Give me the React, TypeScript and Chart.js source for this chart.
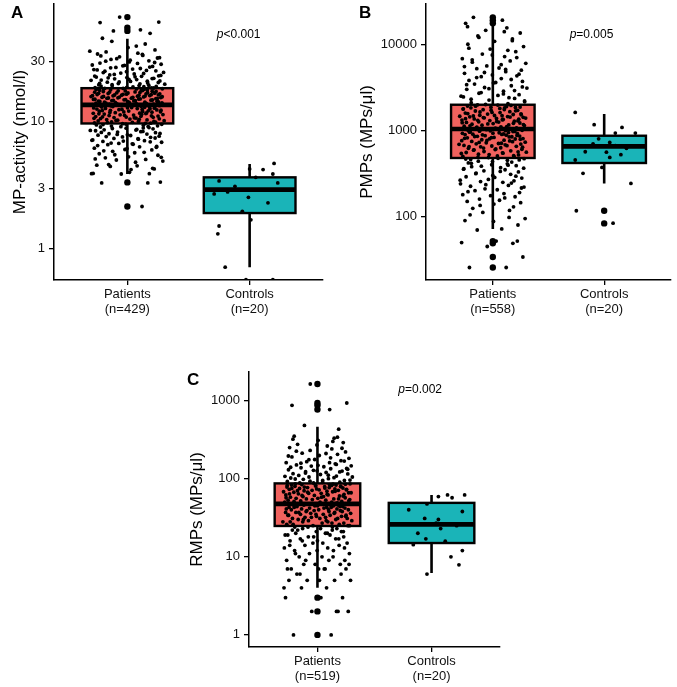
import React, { useEffect, useRef } from "react";
import { Chart, registerables } from "chart.js";

Chart.register(...registerables);

const FONT = '"Liberation Sans", Arial, Helvetica, sans-serif';
Chart.defaults.font.family = FONT;

const RED = "#F0625E";
const TEAL = "#1AB4B8";
const BOX_COLORS = [RED, TEAL];

const CATEGORIES = ["Patients", "Controls"];

// jitter offsets (category units) for the patient clouds
const JITTER = [0.12, -0.21, 0.27, -0.05, 0.18, -0.28, 0.03, 0.22, -0.14, 0.08, -0.25, 0.29, -0.09, 0.15, -0.18, 0.01, 0.25, -0.23, 0.06, -0.12, 0.2, -0.02, -0.27, 0.1, 0.24, -0.16, 0.04, -0.07, 0.28, -0.2, 0.14, -0.29, 0.09, -0.11, 0.19, -0.04, 0.26, -0.24, 0.0, 0.16, -0.15, 0.23, -0.08, 0.11, -0.26, 0.07, -0.19, 0.21, -0.01, 0.13, -0.22, 0.17, -0.13];
// small shift applied per pass through JITTER
const JITTER_SHIFT = [0.0, 0.011, -0.007, 0.016, -0.013, 0.005, -0.017, 0.009, -0.003, 0.014];

// ---------- Panel A : MP-activity ----------
const A_COUNTS = ["(n=429)", "(n=20)"];
const A_TICKS = [1, 3, 10, 30];
const A_RANGE = [0.567, 84.7];
const A_PATIENTS_1 = [
  2.15, 3.3, 3.35, 3.88, 3.9, 3.92, 4.2, 4.25, 4.45, 4.5, 4.55, 4.9, 5.0,
  5.05, 5.2, 5.3, 5.45, 5.6, 5.7, 5.85, 6.0, 6.05, 6.2, 6.35, 6.4, 6.6, 6.7, 6.75, 6.9,
  7.0, 7.1, 7.15, 7.3, 7.4, 7.55, 7.6, 7.7, 7.85, 7.9, 8.0, 8.05, 8.2, 8.3, 8.35, 8.5,
  8.6, 8.65, 8.8, 8.9, 8.95, 9.1, 9.2, 9.25, 9.4, 9.5, 9.55, 9.65,
  9.75, 9.8, 9.9, 9.95, 10.0, 10.1, 10.15, 10.2, 10.3, 10.35, 10.4, 10.5, 10.55, 10.6,
  10.7, 10.8, 10.85, 10.9, 11.0, 11.05, 11.1, 11.2, 11.3, 11.35, 11.4, 11.5, 11.6, 11.65,
  11.7, 11.8, 11.9, 11.95, 12.0, 12.1, 12.15, 12.2, 12.3, 12.4, 12.45, 12.5, 12.6, 12.7,
  12.75, 12.8, 12.9, 13.0, 13.05, 13.1, 13.2, 13.25, 13.3, 13.4, 13.5, 13.55,
  13.65, 13.7, 13.75, 13.8, 13.9, 14.0, 14.1, 14.15, 14.25, 14.3, 14.4, 14.5, 14.55, 14.6,
  14.7, 14.8, 14.9, 15.0, 15.1, 15.2, 15.3, 15.35, 15.45, 15.5, 15.6, 15.7, 15.8, 15.9,
  16.0, 16.1, 16.2, 16.3, 16.4, 16.5, 16.6, 16.7, 16.8, 16.9, 17.0, 17.1, 17.2, 17.3,
  17.4, 17.5, 17.6, 17.7, 17.8, 17.9, 18.0, 18.1, 18.2, 18.3,
  18.5, 18.6, 18.8, 19.0, 19.2, 19.3, 19.5, 19.8, 20.0, 20.2, 20.5, 20.8, 21.0, 21.3,
  21.5, 21.8, 22.0, 22.3, 22.5, 22.8, 23.0, 23.4, 23.8, 24.2, 24.5, 25.0, 25.4, 25.8,
  26.3, 26.8, 27.3, 27.8, 28.4, 29.0, 29.6,
  30.2, 31.0, 31.8, 32.5, 33.3, 34.2, 34.7, 35.5, 36.8, 38.4, 41.0, 45.5,
  49.8, 52.0, 53.0, 60.5, 61.0, 66.8,
];
const A_PATIENTS_2 = [
  3.3, 3.9, 4.0, 4.3, 4.6, 4.8, 5.1, 5.25, 5.5, 5.75, 5.9, 6.15, 6.3, 6.5, 6.65, 6.8, 6.95,
  7.05, 7.2, 7.35, 7.45, 7.65, 7.8, 7.95, 8.1, 8.25, 8.4, 8.55, 8.7, 8.85, 9.0, 9.15, 9.3, 9.45, 9.6,
  9.72, 9.85, 10.05, 10.25, 10.45, 10.65, 10.75, 10.95, 11.15, 11.25, 11.45, 11.55, 11.75, 11.85,
  12.05, 12.25, 12.35, 12.55, 12.65, 12.85, 12.95, 13.15, 13.35, 13.45, 13.58,
  13.62, 13.85, 13.95, 14.05, 14.2, 14.35, 14.45, 14.65, 14.75, 14.85, 14.95, 15.05, 15.15, 15.25,
  15.4, 15.55, 15.65, 15.75, 15.85, 15.95, 16.05, 16.15, 16.25, 16.35, 16.45, 16.55, 16.75, 16.85,
  16.95, 17.15, 17.35, 17.55, 17.75, 17.95, 18.15, 18.35,
  18.45, 18.7, 18.9, 19.1, 19.4, 19.6, 19.9, 20.1, 20.4, 20.6, 20.9, 21.2, 21.6, 21.9, 22.2, 22.6,
  22.9, 23.2, 23.6, 24.0, 24.4, 24.8, 25.2, 25.6, 26.0, 26.6, 27.0, 27.6, 28.0, 28.8, 29.3, 30.0,
  30.6, 31.4, 32.0, 33.0, 34.0, 36.0, 39.5, 43.0,
];
const A_CONTROLS = [3.42, 2.7, 2.54, 4.25, 4.2, 3.65, 4.7, 3.88, 1.97, 1.69, 1.51, 1.31, 0.716, 0.57, 0.57, 2.9, 3.1, 2.3, 3.3, 2.8];
const A_CONTROLS_JITTER = [-0.25, -0.29, -0.01, 0.0, 0.11, 0.05, 0.2, 0.19, -0.06, 0.01, -0.25, -0.26, -0.2, -0.03, 0.19, 0.08, -0.12, 0.15, 0.23, -0.18];
// [lower whisker, Q1, median, Q3, upper whisker]
const A_BOX_PATIENTS = [3.88, 9.7, 13.6, 18.4, 45];
const A_BOX_CONTROLS = [0.716, 1.91, 2.92, 3.65, 4.65];
const A_OUTLIERS_PATIENTS = [66.8, 55, 52, 3.33, 2.15];
const A_OUTLIERS_CONTROLS: number[] = [];
const A_PVALUE = "<0.001";
const A_PVALUE_AT = [1.91, 48.3];

// ---------- Panel B : PMPs ----------
const B_COUNTS = ["(n=558)", "(n=20)"];
const B_TICKS = [100, 1000, 10000];
const B_RANGE = [18.4, 29300];
const B_PATIENTS_1 = [
  25.7, 25.7, 34, 45, 49, 50, 52, 52, 70, 72, 90, 95,
  112, 118, 125, 140, 145, 150, 155, 160, 170, 175, 180, 185, 190, 200, 205, 210, 220, 225,
  230, 240, 250, 255, 260, 270, 280, 290, 300, 310, 320, 330, 340, 350, 360, 370, 380, 390,
  400, 410, 420, 430, 440, 450, 460, 470,
  485, 495, 500, 505, 520, 530, 545, 555, 560, 570, 580, 595, 600, 605, 620, 630, 645, 655,
  660, 670, 680, 695, 700, 705, 720, 730, 745, 755, 760, 770, 780, 795, 800, 805, 820, 830,
  845, 855, 860, 870, 880, 895, 900, 905, 920, 930, 945, 955, 970, 980, 995, 1000, 1005, 1020, 1030,
  1045, 1060, 1070, 1080, 1100, 1120, 1140, 1150, 1160, 1180, 1200, 1220, 1240, 1250, 1260,
  1280, 1300, 1320, 1340, 1350, 1360, 1380, 1400, 1420, 1440, 1450, 1460, 1480, 1500, 1530,
  1550, 1560, 1590, 1620, 1650, 1680, 1710, 1740, 1750, 1770, 1800, 1830, 1850, 1860, 1890,
  1920, 1950, 1980,
  2050, 2100, 2150, 2250, 2350, 2450, 2550, 2600, 2700, 2850, 3000, 3100, 3150, 3300, 3450,
  3600, 3700, 3800, 4000, 4200, 4300, 4400, 4600, 4800, 5000, 5200, 5300, 5600, 6000, 6200,
  6400, 6800, 7200, 7700, 8200, 8800, 9400, 10000, 10800, 11500, 12500, 13500, 14500, 15500,
  17500, 19000, 20500,
];
const B_PATIENTS_2 = [
  80, 88, 98, 105, 130, 135, 165, 195, 215, 235, 245, 265, 285, 295, 315, 335, 355, 365, 385,
  395, 415, 435, 455, 465, 475,
  490, 510, 525, 540, 550, 565, 590, 610, 625, 640, 650, 665, 690, 710, 725, 740, 765, 790,
  810, 825, 840, 850, 875, 890, 910, 925, 940, 960, 975, 990, 1010, 1025,
  1050, 1090, 1110, 1130, 1170, 1190, 1210, 1230, 1270, 1290, 1310, 1330, 1370, 1390, 1410,
  1430, 1470, 1490, 1520, 1570, 1610, 1640, 1690, 1720, 1780, 1820, 1870, 1910, 1970,
  2000, 2200, 2300, 2400, 2500, 2650, 2750, 2900, 3050, 3200, 3400, 3550, 3900, 4100, 4500,
  4700, 5100, 5500, 5800, 6600, 7000, 7500, 8500, 9000, 11000, 12000, 14000, 16000,
];
const B_CONTROLS = [1620, 1165, 1083, 933, 933, 726, 665, 566, 486, 523, 454, 372, 318, 243, 117, 84, 700, 620, 800, 560];
const B_CONTROLS_JITTER = [-0.26, -0.09, 0.16, 0.28, 0.1, 0.05, 0.1, -0.17, 0.05, 0.15, -0.26, -0.02, -0.19, 0.24, -0.25, 0.08, -0.1, 0.2, -0.05, 0.02];
const B_BOX_PATIENTS = [72, 479, 1038, 1987, 16600];
const B_BOX_CONTROLS = [243, 419, 653, 868, 1550];
const B_OUTLIERS_PATIENTS = [20500, 19000, 17500, 52, 49, 34, 25.7];
const B_OUTLIERS_CONTROLS = [117, 83.5];
const B_PVALUE = "=0.005";
const B_PVALUE_AT = [1.886, 12800];

// ---------- Panel C : RMPs ----------
const C_COUNTS = ["(n=519)", "(n=20)"];
const C_TICKS = [1, 10, 100, 1000];
const C_RANGE = [0.708, 2320];
const C_PATIENTS_1 = [
  1, 1, 2, 2, 2, 3, 3, 3, 4, 4, 5, 5, 5, 5, 6, 7, 7, 7, 7, 8, 8, 8, 9, 9, 9,
  10, 10, 11, 11, 12, 12, 13, 13, 14, 14, 15, 15, 16, 16, 17, 17, 18, 18, 19, 19, 20, 20,
  21, 21, 22, 22, 23, 23, 24, 24,
  25, 25, 26, 26, 27, 27, 28, 28, 28, 29, 29, 30, 30, 31, 31, 31, 32, 32, 33, 33, 34, 34, 34,
  35, 35, 36, 36, 37, 37, 37, 38, 38, 39, 39, 40, 40, 40, 41, 41, 42, 42, 43, 43, 43, 44, 44,
  45, 45, 46, 46, 46, 47, 47,
  48, 48, 49, 50, 50, 51, 52, 53, 53, 54, 55, 55, 56, 56, 57, 58, 59, 59, 60, 61, 62, 62, 63,
  64, 65, 65, 66, 67, 68, 68, 69, 70, 71, 71, 72, 73, 74, 74, 75, 76, 77, 77, 78, 79, 80, 80,
  81, 82, 83, 83, 84, 85, 86, 86,
  88, 90, 92, 95, 95, 98, 100, 102, 105, 105, 108, 110, 113, 115, 116, 120, 123, 125, 126,
  130, 134, 135, 138, 142, 145, 146, 150, 155, 160, 160, 165, 170, 176, 182, 190, 198, 205,
  212, 220, 230, 240, 250, 262, 275, 290, 310, 330, 350, 430, 480,
  767, 870, 930, 1630,
];
const C_PATIENTS_2 = [
  2, 4, 5, 6, 6, 7, 7, 8, 9,
  10, 11, 12, 13, 14, 15, 16, 17, 18, 19, 20, 21, 22, 23, 24,
  25, 26, 27, 28, 29, 30, 31, 32, 33, 34, 35, 36, 37, 38, 39, 40, 41, 42, 43, 44, 45, 46, 47,
  48, 49, 50, 51, 52, 54, 55, 57, 58, 60, 61, 63, 64, 66, 67, 69, 70, 72, 73, 75, 76, 78, 79,
  81, 82, 84, 85,
  88, 90, 93, 96, 99, 103, 107, 111, 118, 122, 128, 132, 140, 148, 152, 158, 168, 175, 185,
  195, 210, 225, 245, 270, 300, 320, 340,
];
const C_CONTROLS = [47.5, 59, 62, 57, 62, 38, 31, 30, 27, 23, 17, 14.3, 15.8, 12, 10, 7.9, 6, 40, 20, 25];
const C_CONTROLS_JITTER = [-0.04, 0.06, 0.14, 0.18, 0.29, 0.27, -0.06, 0.06, 0.04, 0.08, -0.05, -0.16, 0.12, 0.27, 0.17, 0.24, -0.04, -0.2, -0.12, 0.22];
const C_BOX_PATIENTS = [4, 24.8, 47.5, 87, 463];
const C_BOX_CONTROLS = [6.2, 15, 26, 49, 62];
const C_OUTLIERS_PATIENTS = [1630, 930, 870, 767, 3, 2, 1];
const C_OUTLIERS_CONTROLS: number[] = [];
const C_PVALUE = "=0.002";
const C_PVALUE_AT = [1.9, 1395];

type PanelCfg = {
  letter: string;
  yTitle: string;
  counts: string[];
  ticks: number[];
  range: number[];
  patients: number[];
  controls: number[];
  controlsJitter: number[];
  boxes: number[][];
  outliersPatients: number[];
  outliersControls: number[];
  pvalue: string;
  pvalueAt: number[];
  left: number; top: number; width: number; height: number;
  yWidth: number; xHeight: number; padTop: number; padRight: number;
  titlePad: number; letterX: number; letterY: number;
};

const PANELS: PanelCfg[] = [
  {
    letter: "A", yTitle: "MP-activity (nmol/l)", counts: A_COUNTS, ticks: A_TICKS, range: A_RANGE,
    patients: [...A_PATIENTS_1, ...A_PATIENTS_2], controls: A_CONTROLS, controlsJitter: A_CONTROLS_JITTER,
    boxes: [A_BOX_PATIENTS, A_BOX_CONTROLS], outliersPatients: A_OUTLIERS_PATIENTS,
    outliersControls: A_OUTLIERS_CONTROLS, pvalue: A_PVALUE, pvalueAt: A_PVALUE_AT,
    left: 0, top: 0, width: 338, height: 320, yWidth: 54, xHeight: 40, padTop: 3, padRight: 15,
    titlePad: 10, letterX: 11, letterY: 18,
  },
  {
    letter: "B", yTitle: "PMPs (MPs/\u03bcl)", counts: B_COUNTS, ticks: B_TICKS, range: B_RANGE,
    patients: [...B_PATIENTS_1, ...B_PATIENTS_2], controls: B_CONTROLS, controlsJitter: B_CONTROLS_JITTER,
    boxes: [B_BOX_PATIENTS, B_BOX_CONTROLS], outliersPatients: B_OUTLIERS_PATIENTS,
    outliersControls: B_OUTLIERS_CONTROLS, pvalue: B_PVALUE, pvalueAt: B_PVALUE_AT,
    left: 338, top: 0, width: 339, height: 320, yWidth: 88, xHeight: 40, padTop: 3, padRight: 6,
    titlePad: 19, letterX: 21, letterY: 18,
  },
  {
    letter: "C", yTitle: "RMPs (MPs/\u03bcl)", counts: C_COUNTS, ticks: C_TICKS, range: C_RANGE,
    patients: [...C_PATIENTS_1, ...C_PATIENTS_2], controls: C_CONTROLS, controlsJitter: C_CONTROLS_JITTER,
    boxes: [C_BOX_PATIENTS, C_BOX_CONTROLS], outliersPatients: C_OUTLIERS_PATIENTS,
    outliersControls: C_OUTLIERS_CONTROLS, pvalue: C_PVALUE, pvalueAt: C_PVALUE_AT,
    left: 170, top: 340, width: 340, height: 347, yWidth: 79, xHeight: 40, padTop: 32, padRight: 10,
    titlePad: 17, letterX: 17, letterY: 45,
  },
];

const TEXT_COLOR = "#111";

function Panel({ p }: { p: PanelCfg }) {
  const ref = useRef<HTMLCanvasElement | null>(null);

  useEffect(() => {
    const canvas = ref.current;
    if (!canvas) return;

    const n = JITTER.length;
    const patientPts = p.patients.map((v, i) => ({
      x: 1 + JITTER[i % n] + JITTER_SHIFT[Math.floor(i / n) % JITTER_SHIFT.length],
      y: v,
    }));
    const controlPts = p.controls.map((v, i) => ({ x: 2 + p.controlsJitter[i % p.controlsJitter.length], y: v }));
    const outlierPts = [
      ...p.outliersPatients.map((v) => ({ x: 1, y: v })),
      ...p.outliersControls.map((v) => ({ x: 2, y: v })),
    ];

    const boxPlugin = {
      id: "boxes" + p.letter,
      beforeDatasetsDraw(chart: any) {
        const { ctx, chartArea, scales } = chart;
        const xs = scales.x;
        const ys = scales.y;
        ctx.save();
        ctx.beginPath();
        ctx.rect(chartArea.left, chartArea.top, chartArea.right - chartArea.left, chartArea.bottom - chartArea.top);
        ctx.clip();
        p.boxes.forEach((b, i) => {
          const cat = i + 1;
          const cx = xs.getPixelForValue(cat);
          const l = xs.getPixelForValue(cat - 0.375);
          const r = xs.getPixelForValue(cat + 0.375);
          const [lo, q1, med, q3, hi] = b.map((v) => ys.getPixelForValue(v));
          ctx.strokeStyle = "#000";
          ctx.lineCap = "butt";
          ctx.lineWidth = 2.6;
          ctx.beginPath();
          ctx.moveTo(cx, lo);
          ctx.lineTo(cx, q1);
          ctx.moveTo(cx, q3);
          ctx.lineTo(cx, hi);
          ctx.stroke();
          ctx.fillStyle = BOX_COLORS[i];
          ctx.fillRect(l, q3, r - l, q1 - q3);
          ctx.lineWidth = 2.4;
          ctx.strokeRect(l, q3, r - l, q1 - q3);
          ctx.lineWidth = 4.6;
          ctx.beginPath();
          ctx.moveTo(l, med);
          ctx.lineTo(r, med);
          ctx.stroke();
        });
        ctx.restore();
      },
      afterDraw(chart: any) {
        const { ctx, scales } = chart;
        const px = scales.x.getPixelForValue(p.pvalueAt[0]);
        const py = scales.y.getPixelForValue(p.pvalueAt[1]);
        ctx.save();
        ctx.fillStyle = "#000";
        ctx.textBaseline = "middle";
        ctx.textAlign = "left";
        ctx.font = `italic 12px ${FONT}`;
        const wp = ctx.measureText("p").width;
        ctx.font = `12px ${FONT}`;
        const wr = ctx.measureText(p.pvalue).width;
        const x0 = px - (wp + wr) / 2;
        ctx.font = `italic 12px ${FONT}`;
        ctx.fillText("p", x0, py);
        ctx.font = `12px ${FONT}`;
        ctx.fillText(p.pvalue, x0 + wp, py);
        ctx.font = `bold 17px ${FONT}`;
        ctx.textBaseline = "alphabetic";
        ctx.fillText(p.letter, p.letterX, p.letterY);
        ctx.restore();
      },
    };

    const axisGrid = {
      display: true,
      drawOnChartArea: false,
      drawTicks: true,
      tickLength: 5,
      color: "#000",
      lineWidth: 1.3,
    };
    const axisBorder = { display: true, color: "#000", width: 1.5 };
    const tickFont = { family: FONT, size: 13, lineHeight: 1.15 };
    const pointStyle = {
      pointBackgroundColor: "#000",
      pointBorderWidth: 0,
      borderWidth: 0,
      showLine: false,
      clip: 0,
    };

    const chart = new Chart(canvas, {
      type: "scatter",
      data: {
        datasets: [
          { data: patientPts, pointRadius: 1.9, ...pointStyle } as any,
          { data: controlPts, pointRadius: 1.9, ...pointStyle } as any,
          { data: outlierPts, pointRadius: 3.2, ...pointStyle } as any,
        ],
      },
      options: {
        animation: false,
        responsive: false,
        devicePixelRatio: 1,
        events: [],
        layout: { padding: { left: 0, top: p.padTop, right: p.padRight, bottom: 0 } },
        plugins: { legend: { display: false }, tooltip: { enabled: false } },
        scales: {
          x: {
            type: "linear",
            min: 0.4,
            max: 2.6,
            afterBuildTicks: (s: any) => {
              s.ticks = [{ value: 1 }, { value: 2 }];
            },
            afterFit: (s: any) => {
              s.height = p.xHeight;
              s.paddingLeft = 0;
              s.paddingRight = 0;
            },
            ticks: {
              autoSkip: false,
              maxRotation: 0,
              minRotation: 0,
              padding: 2,
              color: TEXT_COLOR,
              font: tickFont,
              callback: (v: any) => [CATEGORIES[Math.round(v) - 1], p.counts[Math.round(v) - 1]],
            },
            grid: axisGrid,
            border: axisBorder,
          } as any,
          y: {
            type: "logarithmic",
            min: p.range[0],
            max: p.range[1],
            afterBuildTicks: (s: any) => {
              s.ticks = p.ticks.map((v) => ({ value: v }));
            },
            afterFit: (s: any) => {
              s.width = p.yWidth;
              s.paddingTop = 0;
              s.paddingBottom = 0;
            },
            ticks: {
              autoSkip: false,
              padding: 4,
              color: TEXT_COLOR,
              font: tickFont,
              callback: (v: any) => String(v),
            },
            grid: axisGrid,
            border: axisBorder,
            title: {
              display: true,
              text: p.yTitle,
              color: "#000",
              font: { family: FONT, size: 17 },
              padding: { top: p.titlePad, bottom: 0 },
            },
          } as any,
        },
      },
      plugins: [boxPlugin],
    });

    return () => chart.destroy();
  }, [p]);

  return (
    <canvas
      ref={ref}
      width={p.width}
      height={p.height}
      style={{ position: "absolute", left: p.left, top: p.top, width: p.width, height: p.height, display: "block" }}
    />
  );
}

export default function App() {
  return (
    <div style={{ position: "absolute", left: 0, top: 0, width: 677, height: 687, background: "#fff", overflow: "hidden" }}>
      {PANELS.map((p) => (
        <Panel key={p.letter} p={p} />
      ))}
    </div>
  );
}
